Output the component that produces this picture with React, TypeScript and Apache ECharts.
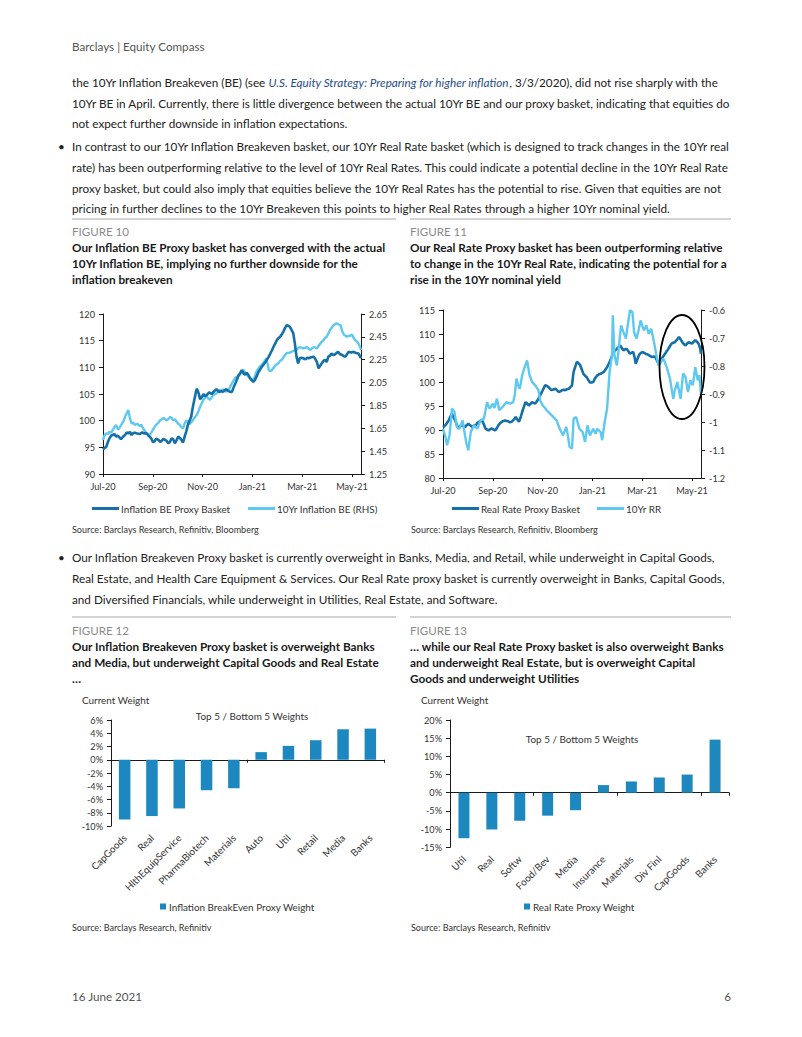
import React, { useEffect, useRef } from 'react';
import * as echarts from 'echarts';

const FF = 'Lato, "Open Sans", "DejaVu Sans Condensed", sans-serif';

// x values are days since 1 Jul 2020
const MONTH_TICKS = ['Jul-20', 'Sep-20', 'Nov-20', 'Jan-21', 'Mar-21', 'May-21'];
const TICK_STEP_DAYS = 61;
const X_MAX_DAYS = 316;

const beProxy: [number, number][] = [
  [0, 94.6], [2, 94.9], [4, 95.1], [6, 96.0], [8, 96.7], [10, 97.2], [12, 97.3], [14, 97.5], [16, 97.0], [18, 97.2],
  [20, 96.9], [22, 96.5], [24, 96.9], [27, 97.3], [29, 97.8], [31, 97.6], [33, 97.9], [35, 97.3], [37, 97.7], [39, 97.75],
  [42, 97.6], [45, 97.5], [48, 97.8], [51, 97.6], [53, 97.7], [55, 97.3], [57, 97.0], [59, 96.7], [61, 96.0], [63, 96.1],
  [65, 96.6], [68, 96.4], [70, 96.0], [72, 96.25], [74, 96.6], [76, 96.4], [78, 96.2], [80, 95.75], [82, 96.0], [84, 96.7],
  [86, 96.5], [88, 95.75], [90, 96.3], [92, 97.0], [94, 96.8], [96, 96.4], [98, 95.9], [100, 97.0], [102, 98.0], [104, 99.2],
  [106, 100.0], [108, 100.75], [110, 102.5], [112, 104.0], [114, 105.5], [115, 106.0], [117, 105.2], [119, 104.0], [121, 104.4], [123, 105.0],
  [125, 104.6], [127, 104.8], [130, 105.3], [133, 105.0], [136, 105.5], [139, 105.9], [142, 105.4], [145, 105.5], [147, 105.4], [149, 105.7],
  [151, 105.9], [154, 105.5], [156, 105.4], [158, 105.4], [160, 106.25], [163, 107.3], [166, 108.5], [168, 108.9], [170, 109.5], [172, 108.9],
  [174, 108.6], [176, 109.0], [178, 108.6], [180, 108.0], [182, 107.6], [184, 107.3], [186, 107.6], [188, 108.25], [190, 109.0], [192, 109.5],
  [194, 110.0], [196, 110.4], [199, 111.0], [201, 111.5], [203, 112.0], [205, 112.6], [207, 113.2], [209, 113.9], [211, 114.5], [213, 115.1],
  [215, 115.5], [217, 115.75], [219, 116.2], [221, 116.7], [223, 117.4], [225, 117.9], [227, 117.8], [229, 117.6], [231, 117.0], [233, 116.4],
  [235, 114.5], [237, 112.0], [239, 110.75], [241, 111.7], [243, 111.8], [245, 111.7], [248, 111.5], [250, 111.8], [252, 111.7], [255, 111.9],
  [258, 112.0], [260, 111.6], [262, 111.0], [264, 109.8], [266, 110.3], [268, 110.75], [270, 111.2], [272, 111.4], [274, 111.0], [276, 112.0],
  [278, 112.2], [280, 112.6], [282, 112.3], [284, 112.4], [286, 112.7], [288, 112.9], [290, 112.5], [293, 112.3], [295, 112.1], [297, 112.0],
  [299, 112.5], [301, 112.9], [304, 112.8], [307, 112.9], [310, 112.7], [313, 112.6], [315, 112.0], [316, 111.7],
];

const beRate: [number, number][] = [
  [0, 1.548], [2, 1.59], [4, 1.606], [6, 1.6], [8, 1.62], [10, 1.61], [12, 1.635], [14, 1.66], [16, 1.68], [18, 1.64],
  [20, 1.65], [23, 1.69], [25, 1.71], [27, 1.75], [29, 1.78], [31, 1.81], [33, 1.74], [35, 1.69], [37, 1.7], [39, 1.68],
  [42, 1.69], [45, 1.67], [47, 1.68], [49, 1.65], [51, 1.63], [53, 1.606], [55, 1.6], [57, 1.59], [59, 1.61], [61, 1.635],
  [63, 1.66], [65, 1.68], [68, 1.7], [70, 1.72], [72, 1.73], [74, 1.74], [76, 1.73], [78, 1.72], [80, 1.73], [82, 1.75],
  [84, 1.74], [86, 1.72], [88, 1.73], [90, 1.71], [92, 1.69], [94, 1.68], [96, 1.66], [98, 1.65], [100, 1.69], [102, 1.72],
  [104, 1.7], [106, 1.69], [108, 1.7], [110, 1.72], [113, 1.75], [115, 1.77], [117, 1.8], [119, 1.84], [121, 1.87], [123, 1.9],
  [125, 1.92], [127, 1.93], [129, 1.91], [131, 1.9], [133, 1.92], [135, 1.94], [137, 1.95], [139, 1.956], [141, 1.97], [143, 1.985],
  [145, 1.98], [147, 1.99], [149, 1.98], [151, 1.97], [153, 1.985], [155, 2.0], [157, 2.03], [160, 2.07], [162, 2.09], [164, 2.1],
  [166, 2.11], [168, 2.12], [170, 2.14], [172, 2.16], [174, 2.14], [176, 2.12], [178, 2.1], [180, 2.09], [182, 2.08], [184, 2.07],
  [186, 2.1], [188, 2.145], [190, 2.17], [192, 2.19], [194, 2.2], [196, 2.22], [198, 2.24], [200, 2.26], [202, 2.2], [203, 2.16],
  [205, 2.15], [207, 2.16], [209, 2.18], [211, 2.2], [213, 2.21], [215, 2.22], [217, 2.24], [219, 2.25], [222, 2.28], [225, 2.31],
  [228, 2.31], [231, 2.32], [234, 2.33], [237, 2.335], [239, 2.35], [241, 2.36], [243, 2.355], [245, 2.35], [248, 2.355], [250, 2.36],
  [252, 2.345], [254, 2.335], [256, 2.35], [258, 2.36], [260, 2.355], [262, 2.35], [264, 2.37], [266, 2.39], [268, 2.41], [270, 2.42],
  [272, 2.44], [274, 2.45], [276, 2.48], [278, 2.51], [280, 2.53], [282, 2.55], [284, 2.56], [286, 2.57], [288, 2.56], [291, 2.55],
  [293, 2.5], [295, 2.47], [297, 2.46], [299, 2.45], [301, 2.46], [303, 2.46], [305, 2.47], [307, 2.44], [309, 2.42], [311, 2.41],
  [313, 2.39], [315, 2.36], [316, 2.335],
];

const rrProxy: [number, number][] = [
  [0, 90.6], [3, 91.0], [5, 91.5], [7, 92.0], [9, 92.8], [11, 93.4], [13, 92.6], [15, 92.0], [17, 91.0], [19, 90.3],
  [21, 90.8], [23, 91.0], [25, 90.8], [27, 90.6], [29, 91.0], [31, 91.3], [34, 90.9], [36, 90.6], [38, 90.9], [40, 91.0],
  [42, 91.4], [44, 91.7], [46, 91.9], [48, 92.0], [50, 91.2], [52, 90.3], [54, 90.1], [56, 89.9], [58, 90.2], [60, 90.3],
  [62, 90.1], [64, 89.9], [66, 90.4], [68, 91.0], [70, 91.4], [72, 91.7], [74, 91.9], [76, 92.0], [78, 91.9], [80, 91.8],
  [82, 91.6], [84, 91.7], [87, 92.2], [89, 92.7], [91, 92.2], [93, 91.7], [95, 92.6], [97, 93.75], [99, 94.8], [101, 95.8],
  [103, 95.5], [105, 95.1], [107, 95.4], [109, 95.8], [111, 95.6], [113, 95.5], [115, 96.0], [117, 96.5], [119, 97.2], [121, 97.9],
  [123, 98.6], [125, 99.3], [127, 99.2], [129, 99.0], [131, 98.6], [133, 98.3], [136, 98.5], [138, 98.6], [140, 98.2], [142, 97.9],
  [144, 98.1], [146, 98.3], [148, 98.4], [150, 98.3], [152, 98.5], [154, 98.6], [156, 98.9], [158, 99.3], [159, 100.8], [160, 102.1],
  [162, 103.2], [164, 104.2], [166, 103.9], [168, 103.5], [170, 102.6], [172, 101.7], [174, 101.3], [176, 101.0], [178, 100.4], [180, 99.9],
  [182, 99.9], [184, 100.0], [186, 100.7], [189, 101.4], [191, 101.6], [193, 101.7], [195, 101.9], [197, 102.1], [199, 102.6], [201, 103.1],
  [203, 103.8], [205, 104.5], [207, 105.4], [209, 106.25], [211, 106.6], [213, 106.9], [215, 107.3], [217, 107.6], [219, 107.1], [221, 106.6],
  [223, 106.8], [225, 106.9], [227, 106.4], [229, 105.9], [231, 106.1], [233, 106.25], [235, 104.9], [236, 103.8], [238, 104.7], [240, 105.6],
  [242, 106.0], [244, 106.25], [246, 106.1], [248, 105.9], [250, 105.8], [252, 105.6], [254, 105.4], [256, 105.2], [258, 105.3], [260, 105.2],
  [262, 104.5], [264, 103.8], [266, 104.4], [268, 104.9], [270, 105.4], [272, 105.9], [274, 106.4], [276, 106.9], [278, 107.5], [280, 108.0],
  [282, 108.2], [284, 108.3], [287, 108.9], [289, 109.4], [291, 108.9], [293, 108.3], [295, 107.9], [297, 107.6], [299, 108.0], [301, 108.3],
  [303, 108.1], [305, 108.0], [307, 108.4], [309, 108.7], [311, 108.4], [313, 108.0], [315, 107.0], [316, 105.9],
];

const rrRate: [number, number][] = [
  [0, -1.024], [3, -1.054], [5, -1.083], [8, -1.048], [11, -0.952], [14, -0.964], [17, -1.018], [20, -1.024], [24, -0.994], [27, -1.048],
  [29, -1.08], [31, -1.101], [34, -1.036], [38, -1.012], [42, -1.024], [46, -0.994], [50, -0.988], [52, -0.96], [54, -0.929], [57, -0.952],
  [61, -0.935], [63, -0.95], [66, -0.917], [69, -0.958], [73, -0.946], [76, -0.935], [78, -0.929], [82, -0.935], [86, -0.929], [88, -0.9],
  [90, -0.845], [92, -0.87], [94, -0.881], [97, -0.833], [100, -0.804], [103, -0.78], [106, -0.833], [109, -0.857], [113, -0.869], [117, -0.887],
  [119, -0.923], [122, -0.94], [125, -0.95], [127, -0.958], [131, -0.97], [135, -0.982], [139, -0.994], [143, -1.024], [147, -1.048], [151, -1.018],
  [153, -1.05], [155, -1.089], [158, -1.095], [160, -0.988], [163, -0.982], [167, -1.024], [171, -1.036], [174, -1.071], [177, -1.012], [180, -1.048],
  [184, -1.024], [187, -1.042], [189, -1.024], [193, -1.036], [195, -1.065], [198, -1.0], [201, -0.952], [204, -0.821], [207, -0.762], [208, -0.619],
  [210, -0.762], [213, -0.798], [216, -0.714], [218, -0.655], [221, -0.679], [224, -0.702], [226, -0.66], [229, -0.601], [232, -0.607], [234, -0.679],
  [237, -0.702], [240, -0.667], [242, -0.637], [246, -0.673], [249, -0.655], [252, -0.685], [255, -0.667], [258, -0.708], [261, -0.756], [264, -0.798],
  [267, -0.786], [270, -0.774], [274, -0.804], [278, -0.845], [282, -0.917], [284, -0.887], [287, -0.857], [291, -0.917], [294, -0.827], [297, -0.839],
  [300, -0.893], [303, -0.851], [306, -0.869], [309, -0.804], [312, -0.851], [314, -0.833], [316, -0.905],
];

const beCategories = ['CapGoods', 'Real', 'HlthEquipService', 'PharmaBiotech', 'Materials', 'Auto', 'Util', 'Retail', 'Media', 'Banks'];
const beWeights = [-9.0, -8.5, -7.35, -4.6, -4.3, 1.15, 2.1, 2.95, 4.6, 4.7];
const rrCategories = ['Util', 'Real', 'Softw', 'Food/Bev', 'Media', 'Insurance', 'Materials', 'Div Finl', 'CapGoods', 'Banks'];
const rrWeights = [-12.5, -10.1, -7.7, -6.3, -4.8, 2.1, 3.1, 4.2, 5.0, 14.6];

const DARK = '#1570a8';
const LIGHT = '#5ec8f0';
const BAR = '#1d87c0';
const AX = '#1a1a1a';
const CT = '#333333';

const f = (size: number, weight = 'normal', style = 'normal') => `${style} ${weight} ${size.toFixed(2)}px ${FF}`;

// font size that makes `text` span `target` pixels in the installed font
function fit(text: string, target: number, weight = 'normal') {
  const ctx = document.createElement('canvas').getContext('2d');
  if (!ctx) return 12;
  ctx.font = `normal ${weight} 100px ${FF}`;
  const w = ctx.measureText(text).width;
  return w > 0 ? (100 * target) / w : 12;
}

function txt(x: number, y: number, text: string, o: any = {}) {
  const align = o.align || 'left';
  return {
    type: 'text',
    x,
    y,
    silent: true,
    z: 50,
    style: {
      text,
      fill: o.fill || '#222222',
      font: o.font,
      textAlign: align,
      align,
      textVerticalAlign: 'middle',
      verticalAlign: 'middle',
      rich: o.rich,
    },
  };
}

function monthLabel(v: number) {
  const i = Math.round(v / TICK_STEP_DAYS);
  if (Math.abs(v - i * TICK_STEP_DAYS) < 0.5 && MONTH_TICKS[i]) return MONTH_TICKS[i];
  return '';
}

function buildOption() {
  const body = Math.min(
    fit('10Yr BE in April. Currently, there is little divergence between the actual 10Yr BE and our proxy basket, indicating that equities do', 659),
    fit('rate) has been outperforming relative to the level of 10Yr Real Rates. This could indicate a potential decline in the 10Yr Real Rate', 659)
  );
  const ttl = Math.min(
    fit('Our Inflation BE Proxy basket has converged with the actual', 314, 'bold'),
    fit('Our Real Rate Proxy basket has been outperforming relative', 317, 'bold')
  );
  const ct = fit('Inflation BreakEven Proxy Weight', 146);
  const ax = fit('Sep-20', 29);
  const src = fit('Source: Barclays Research, Refinitiv, Bloomberg', 187);
  const hdr = fit('Barclays | Equity Compass', 133);
  const fig = fit('FIGURE 10', 57);

  const BODY = f(body);
  const TITLE = f(ttl, 'bold');

  const timeXAxis = (gridIndex: number) => ({
    gridIndex,
    type: 'value',
    min: 0,
    max: X_MAX_DAYS,
    interval: TICK_STEP_DAYS,
    axisLine: { show: true, onZero: false, lineStyle: { color: AX, width: 1 } },
    axisTick: { show: true, length: 3, lineStyle: { color: AX } },
    axisLabel: { fontFamily: FF, fontSize: ax, color: CT, margin: 8, showMaxLabel: false, formatter: monthLabel },
    splitLine: { show: false },
  });

  const valYAxis = (gridIndex: number, min: number, max: number, interval: number, position: string, fmt: (v: number) => string) => ({
    gridIndex,
    type: 'value',
    position,
    min,
    max,
    interval,
    axisLine: { show: true, onZero: false, lineStyle: { color: AX, width: 1 } },
    axisTick: { show: true, length: 4, lineStyle: { color: AX } },
    axisLabel: { fontFamily: FF, fontSize: ax, color: CT, margin: 8, formatter: fmt },
    splitLine: { show: false },
  });

  const lineLegend = (name: string, left: number) => ({
    data: [{ name, icon: 'rect' }],
    left,
    top: 503.5,
    padding: 0,
    itemWidth: 27,
    itemHeight: 3,
    itemGap: 0,
    textStyle: { fontFamily: FF, fontSize: ct, color: CT, padding: [0, 0, 0, -3] },
    selectedMode: false,
  });

  const barLegend = (name: string, left: number) => ({
    data: [{ name, icon: 'rect' }],
    left,
    top: 901.5,
    padding: 0,
    itemWidth: 6,
    itemHeight: 6,
    textStyle: { fontFamily: FF, fontSize: ct, color: CT, padding: [0, 0, 0, -2] },
    selectedMode: false,
  });

  const catAxisLine = (gridIndex: number, data: string[]) => ({
    gridIndex,
    type: 'category',
    data,
    axisLine: { show: true, onZero: true, lineStyle: { color: AX } },
    axisTick: { show: true, length: 3, lineStyle: { color: AX } },
    axisLabel: { show: false },
  });
  const catAxisLabels = (gridIndex: number, data: string[]) => ({
    gridIndex,
    type: 'category',
    position: 'bottom',
    data,
    axisLine: { show: false, onZero: false },
    axisTick: { show: false },
    axisLabel: { rotate: 45, interval: 0, fontFamily: FF, fontSize: ct, color: CT, margin: 10 },
  });

  const graphics: any[] = [];
  graphics.push(txt(72, 46, 'Barclays | Equity Compass', { fill: '#555555', font: f(hdr) }));

  const g1: any = txt(72, 81.5, '', {
    font: BODY,
    rich: {
      n: { font: BODY, fill: '#222222' },
      i: { font: f(body, 'normal', 'italic'), fill: '#1f4e8c' },
    },
  });
  g1.style.text =
    '{n|the 10Yr Inflation Breakeven (BE) (see }{i|U.S. Equity Strategy: Preparing for higher inflation}{n|, 3/3/2020), did not rise sharply with the}';
  graphics.push(g1);
  graphics.push(txt(72, 102.5, '10Yr BE in April. Currently, there is little divergence between the actual 10Yr BE and our proxy basket, indicating that equities do', { font: BODY }));
  graphics.push(txt(72, 123, 'not expect further downside in inflation expectations.', { font: BODY }));

  graphics.push(txt(58, 146, '•', { font: BODY }));
  graphics.push(txt(72, 146, 'In contrast to our 10Yr Inflation Breakeven basket, our 10Yr Real Rate basket (which is designed to track changes in the 10Yr real', { font: BODY }));
  graphics.push(txt(72, 166.8, 'rate) has been outperforming relative to the level of 10Yr Real Rates. This could indicate a potential decline in the 10Yr Real Rate', { font: BODY }));
  graphics.push(txt(72, 187.6, 'proxy basket, but could also imply that equities believe the 10Yr Real Rates has the potential to rise. Given that equities are not', { font: BODY }));
  graphics.push(txt(72, 208.4, 'pricing in further declines to the 10Yr Breakeven this points to higher Real Rates through a higher 10Yr nominal yield.', { font: BODY }));

  const sep = (x1: number, x2: number, y: number) => ({
    type: 'line',
    silent: true,
    shape: { x1, y1: y, x2, y2: y },
    style: { stroke: '#d4d4d4', lineWidth: 2 },
  });
  graphics.push(sep(72, 396, 219), sep(410, 731, 219), sep(72, 396, 617), sep(410, 731, 617));

  const figLabel = (x: number, y: number, s: string) => txt(x, y, s, { fill: '#8a8a8a', font: f(fig) });
  const title = (x: number, y: number, s: string) => txt(x, y, s, { fill: '#1a1a1a', font: TITLE });

  graphics.push(figLabel(72, 231.5, 'FIGURE 10'));
  graphics.push(title(72, 247, 'Our Inflation BE Proxy basket has converged with the actual'));
  graphics.push(title(72, 263, '10Yr Inflation BE, implying no further downside for the'));
  graphics.push(title(72, 279, 'inflation breakeven'));

  graphics.push(figLabel(410, 231.5, 'FIGURE 11'));
  graphics.push(title(410, 247, 'Our Real Rate Proxy basket has been outperforming relative'));
  graphics.push(title(410, 263, 'to change in the 10Yr Real Rate, indicating the potential for a'));
  graphics.push(title(410, 279, 'rise in the 10Yr nominal yield'));

  graphics.push(txt(72, 529.5, 'Source: Barclays Research, Refinitiv, Bloomberg', { fill: CT, font: f(src) }));
  graphics.push(txt(411, 529.5, 'Source: Barclays Research, Refinitiv, Bloomberg', { fill: CT, font: f(src) }));

  graphics.push(txt(58, 557, '•', { font: BODY }));
  graphics.push(txt(72, 557, 'Our Inflation Breakeven Proxy basket is currently overweight in Banks, Media, and Retail, while underweight in Capital Goods,', { font: BODY }));
  graphics.push(txt(72, 578, 'Real Estate, and Health Care Equipment & Services. Our Real Rate proxy basket is currently overweight in Banks, Capital Goods,', { font: BODY }));
  graphics.push(txt(72, 599, 'and Diversified Financials, while underweight in Utilities, Real Estate, and Software.', { font: BODY }));

  graphics.push(figLabel(72, 630, 'FIGURE 12'));
  graphics.push(title(72, 646, 'Our Inflation Breakeven Proxy basket is overweight Banks'));
  graphics.push(title(72, 662, 'and Media, but underweight Capital Goods and Real Estate'));
  graphics.push(title(72, 678, '…'));

  graphics.push(figLabel(410, 630, 'FIGURE 13'));
  graphics.push(title(410, 646, '… while our Real Rate Proxy basket is also overweight Banks'));
  graphics.push(title(410, 662, 'and underweight Real Estate, but is overweight Capital'));
  graphics.push(title(410, 678, 'Goods and underweight Utilities'));

  graphics.push(txt(82, 700, 'Current Weight', { fill: CT, font: f(ct) }));
  graphics.push(txt(421, 700, 'Current Weight', { fill: CT, font: f(ct) }));
  graphics.push(txt(252, 716, 'Top 5 / Bottom 5 Weights', { fill: CT, font: f(ct), align: 'center' }));
  graphics.push(txt(582, 739, 'Top 5 / Bottom 5 Weights', { fill: CT, font: f(ct), align: 'center' }));

  graphics.push(txt(72, 927.5, 'Source: Barclays Research, Refinitiv', { fill: CT, font: f(src) }));
  graphics.push(txt(411, 927.5, 'Source: Barclays Research, Refinitiv', { fill: CT, font: f(src) }));

  graphics.push(txt(72, 996, '16 June 2021', { fill: '#555555', font: f(hdr) }));
  graphics.push(txt(731, 996, '6', { fill: '#555555', font: f(hdr), align: 'right' }));

  graphics.push({
    type: 'ellipse',
    silent: true,
    z: 60,
    shape: { cx: 682, cy: 367, rx: 22.5, ry: 52 },
    style: { fill: 'none', stroke: '#000000', lineWidth: 1.8 },
  });

  const pct = (v: number) => `${Math.round(v)}%`;

  return {
    animation: false,
    backgroundColor: '#ffffff',
    textStyle: { fontFamily: FF },
    grid: [
      { left: 103, top: 314, width: 258, height: 160 },
      { left: 443, top: 310, width: 258, height: 168 },
      { left: 111, top: 720, width: 273, height: 106 },
      { left: 450, top: 720, width: 279, height: 127.3 },
    ],
    xAxis: [
      timeXAxis(0),
      timeXAxis(1),
      catAxisLine(2, beCategories),
      catAxisLabels(2, beCategories),
      catAxisLine(3, rrCategories),
      catAxisLabels(3, rrCategories),
    ],
    yAxis: [
      valYAxis(0, 90, 120, 5, 'left', (v) => String(Math.round(v))),
      valYAxis(0, 1.25, 2.65, 0.2, 'right', (v) => v.toFixed(2)),
      valYAxis(1, 80, 115, 5, 'left', (v) => String(Math.round(v))),
      valYAxis(1, -1.2, -0.6, 0.1, 'right', (v) => String(Math.round(v * 10) / 10)),
      valYAxis(2, -10, 6, 2, 'left', pct),
      valYAxis(3, -15, 20, 5, 'left', pct),
    ],
    legend: [
      lineLegend('Inflation BE Proxy Basket', 92),
      lineLegend('10Yr Inflation BE (RHS)', 248),
      lineLegend('Real Rate Proxy Basket', 452),
      lineLegend('10Yr RR', 597),
      barLegend('Inflation BreakEven Proxy Weight', 160),
      barLegend('Real Rate Proxy Weight', 524),
    ],
    series: [
      {
        name: 'Inflation BE Proxy Basket', type: 'line', xAxisIndex: 0, yAxisIndex: 0, data: beProxy,
        showSymbol: false, symbol: 'none', color: DARK, lineStyle: { color: DARK, width: 2.6 }, z: 3,
      },
      {
        name: '10Yr Inflation BE (RHS)', type: 'line', xAxisIndex: 0, yAxisIndex: 1, data: beRate,
        showSymbol: false, symbol: 'none', color: LIGHT, lineStyle: { color: LIGHT, width: 2.4 }, z: 2,
      },
      {
        name: 'Real Rate Proxy Basket', type: 'line', xAxisIndex: 1, yAxisIndex: 2, data: rrProxy,
        showSymbol: false, symbol: 'none', color: DARK, lineStyle: { color: DARK, width: 2.6 }, z: 2,
      },
      {
        name: '10Yr RR', type: 'line', xAxisIndex: 1, yAxisIndex: 3, data: rrRate,
        showSymbol: false, symbol: 'none', color: LIGHT, lineStyle: { color: LIGHT, width: 2.4 }, z: 3,
      },
      {
        name: 'Inflation BreakEven Proxy Weight', type: 'bar', xAxisIndex: 2, yAxisIndex: 4, data: beWeights,
        barWidth: 11.5, color: BAR, itemStyle: { color: BAR },
      },
      {
        name: 'Real Rate Proxy Weight', type: 'bar', xAxisIndex: 4, yAxisIndex: 5, data: rrWeights,
        barWidth: 11, color: BAR, itemStyle: { color: BAR },
      },
    ],
    graphic: graphics,
  };
}

export default function App() {
  const ref = useRef<HTMLDivElement>(null);
  useEffect(() => {
    if (!ref.current) return;
    const chart = echarts.init(ref.current, undefined, { renderer: 'svg', width: 802, height: 1037 });
    chart.setOption(buildOption() as any);
    return () => chart.dispose();
  }, []);
  return (
    <div
      ref={ref}
      style={{ position: 'absolute', left: 0, top: 0, width: 802, height: 1037, background: '#ffffff' }}
    />
  );
}
